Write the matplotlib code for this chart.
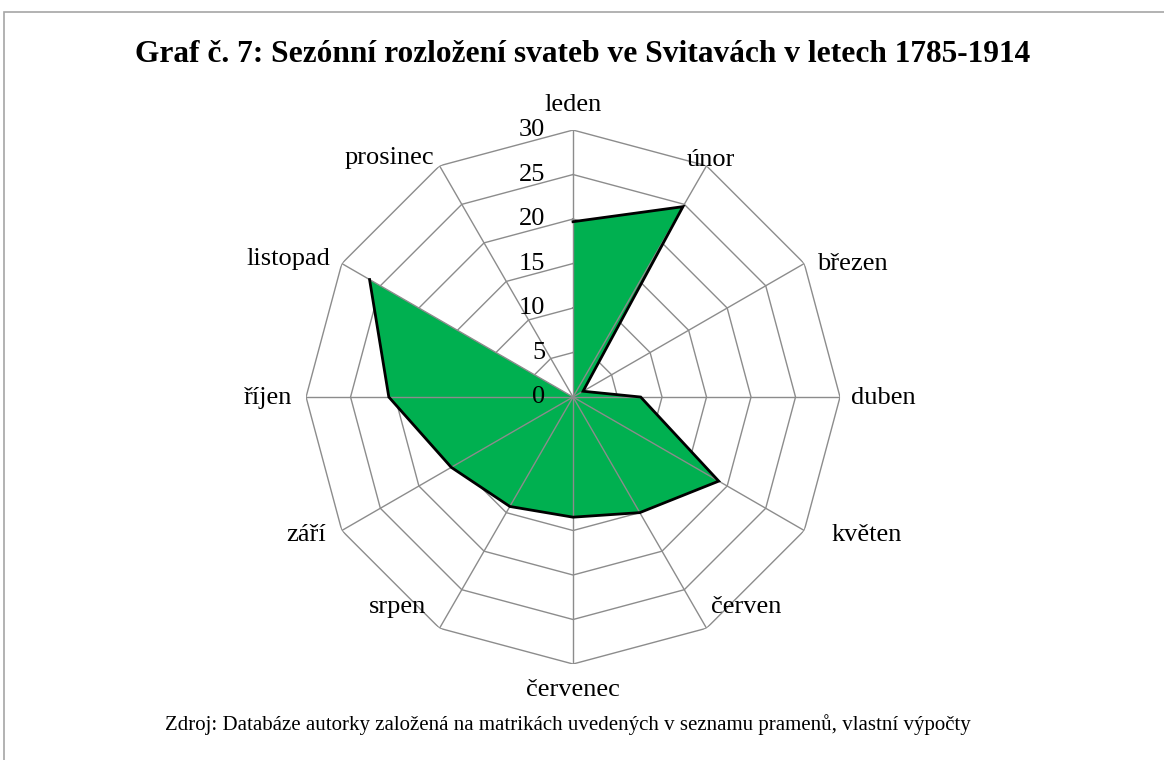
import matplotlib
matplotlib.use("Agg")
import matplotlib.pyplot as plt
import numpy as np
from matplotlib.patches import Rectangle


TITLE = "Graf č. 7: Sezónní rozložení svateb ve Svitavách v letech 1785-1914"
SOURCE_NOTE = ("Zdroj: Databáze autorky založená na matrikách uvedených "
               "v seznamu pramenů, vlastní výpočty")

MONTHS = ["leden", "únor", "březen", "duben", "květen", "červen",
          "červenec", "srpen", "září", "říjen", "listopad", "prosinec"]
VALUES = [19.7, 24.7, 1.3, 7.6, 18.9, 15.0,
          13.5, 14.2, 15.8, 20.7, 26.4, 0.0]
RINGS = [5, 10, 15, 20, 25, 30]
RADIAL_TICKS = [0, 5, 10, 15, 20, 25, 30]

# label offsets from the outer vertex, in pixels (x right, y up)
LABEL_OFFSETS = [(0, 25), (4, 6), (48, 0), (43, -1), (62, -4), (40, 21),
                 (0, -26), (-42, 21), (-36, -4), (-38, -1), (-53, 5), (-50, 8)]

GRID = "#8c8c8c"
FILL = "#00b050"

plt.rcParams.update({
    "font.family": ["Liberation Serif", "DejaVu Serif"],
})

fig = plt.figure(figsize=(11.64, 7.6), dpi=100)
fig.patch.set_facecolor("white")

# outer chart frame (runs off the right and bottom edges)
fig.add_artist(Rectangle((4 / 1164, -0.05), 1.2, 1 - 12 / 760 + 0.05,
                         transform=fig.transFigure, fill=False,
                         edgecolor="#a6a6a6", linewidth=1.2))

ax = fig.add_axes([0.2629, 0.1263, 0.4588, 0.7026], projection="polar")
ax.set_theta_zero_location("N")
ax.set_theta_direction(-1)
ax.set_ylim(0, 30)
ax.set_axis_off()

theta = np.deg2rad(np.arange(len(MONTHS)) * 360 / len(MONTHS))
theta_closed = np.append(theta, theta[0])

for r in RINGS:
    ax.plot(theta_closed, [r] * len(theta_closed), color=GRID, lw=1.0, zorder=1)

vals_closed = VALUES + VALUES[:1]
ax.fill(theta_closed, vals_closed, color=FILL, lw=0, zorder=2)

for t in theta:
    ax.plot([t, t], [0, 30], color=GRID, lw=1.0, zorder=3)

# outline stops at the zero month (prosinec)
ax.plot(theta[:-1], VALUES[:-1], color="black", lw=2.0, zorder=4,
        solid_joinstyle="miter")

for r in RADIAL_TICKS:
    ax.annotate(str(r), xy=(0, r), xytext=(-28, 0), textcoords="offset pixels",
                ha="right", va="center", fontsize=19, annotation_clip=False)

for t, name, off in zip(theta, MONTHS, LABEL_OFFSETS):
    ax.annotate(name, xy=(t, 30), xytext=off, textcoords="offset pixels",
                ha="center", va="center", fontsize=19, annotation_clip=False)

fig.text(0.5009, 1 - 54 / 760, TITLE, ha="center", va="center",
         fontsize=22.6, fontweight="bold")
fig.text(0.488, 1 - 725 / 760, SOURCE_NOTE, ha="center", va="center",
         fontsize=15)

fig.savefig("out.png", dpi=100)
